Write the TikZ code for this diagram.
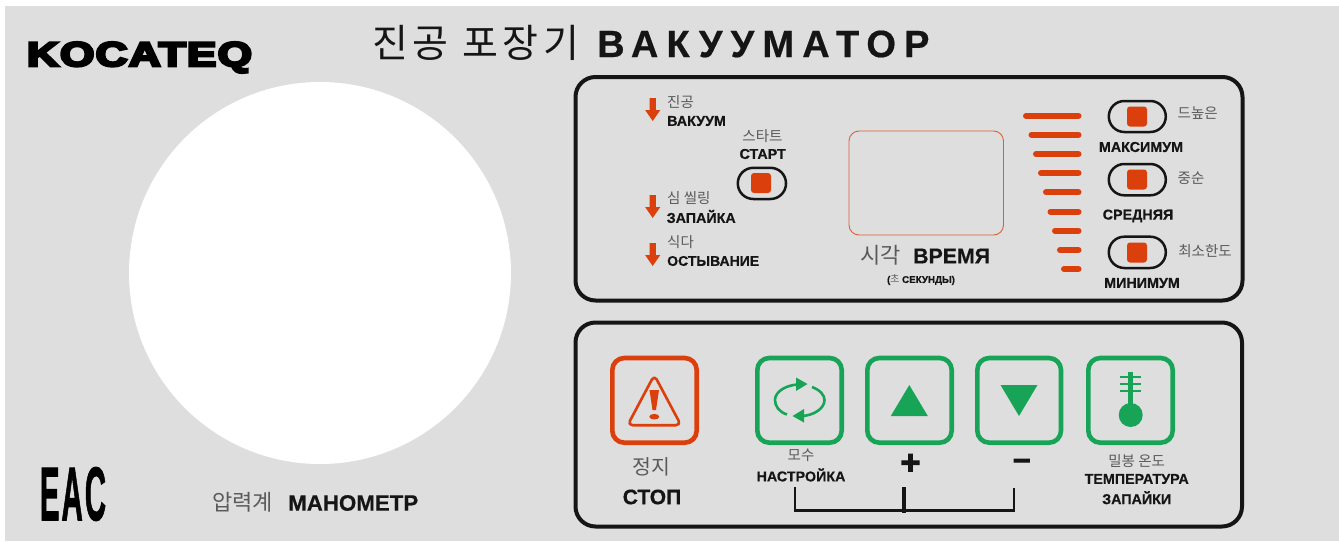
\documentclass[tikz,border=0pt]{standalone}
\usepackage{fontspec}
\usepackage{graphicx}
\setmainfont{Liberation Sans}
\newfontfamily\kr{Noto Sans CJK KR}
\newfontfamily\heavy[FakeBold=3]{Liberation Sans Bold}
\newfontfamily\logofont[FakeBold=7,LetterSpace=3]{Liberation Sans Bold}
\newfontfamily\rb[FakeBold=0.5]{Liberation Sans Bold}
\newfontfamily\eacfont[FakeBold=1.6,LetterSpace=7]{Liberation Sans Bold}
\definecolor{panelgray}{HTML}{DEDEDE}
\definecolor{signalred}{HTML}{DB3F0C}
\definecolor{keygreen}{HTML}{17A457}
\definecolor{krgray}{HTML}{5A5A5A}
\definecolor{ink}{HTML}{151515}
\tikzset{
 panel/.style={draw=ink,line width=4pt,rounded corners=20pt},
 lab/.style={inner sep=0pt,text=ink,font=\rb\fontsize{14.3}{14}\selectfont},
 krs/.style={inner sep=0pt,text=krgray,font=\kr\fontsize{14.5}{14}\selectfont},
 pill/.style={draw=ink,line width=2.5pt,rounded corners=15.5pt,fill=none},
 led/.style={fill=signalred,rounded corners=3pt},
 bar/.style={draw=signalred,line width=6pt,line cap=round},
 greenkey/.style={draw=keygreen,line width=4.6pt,rounded corners=12pt},
 flow/.style={fill=signalred},
 brack/.style={draw=ink,line width=2.6pt},
}
\newcommand{\flowarrow}[2]{%
 \fill[flow] (#1-3.2,#2) -- (#1+3.2,#2) -- (#1+3.2,#2+12) -- (#1+7.6,#2+12) -- (#1,#2+23) -- (#1-7.6,#2+12) -- (#1-3.2,#2+12) -- cycle;}
\begin{document}
\begin{tikzpicture}[x=1pt,y=-1pt]
\useasboundingbox (0,0) rectangle (1339,541);
\fill[white] (0,0) rectangle (1339,541);
\fill[panelgray] (5,6) rectangle (1339,541);
% logo
\node[inner sep=0pt,text=black] (logo) at (139.5,57.5) {\resizebox{225pt}{24pt}{\logofont KOCATEQ}};
\node[inner sep=0pt,text=black] (eac) at (73,494) {\resizebox{66pt}{53pt}{\eacfont EAC}};
% title
\node[anchor=west,inner sep=0pt,text=ink,font=\kr\fontsize{39}{40}\selectfont] (titlekr) at (372,43) {\addfontfeature{LetterSpace=12}진공 포장기};
\node[anchor=west,inner sep=0pt,text=ink,font=\rb\fontsize{38}{38}\selectfont] (titleru) at (597,44) {\addfontfeature{LetterSpace=21.5}ВАКУУМАТОР};
% gauge
\fill[white] (320,273) circle (191);
\node[anchor=west,krs,font=\kr\fontsize{22}{22}\selectfont] (gaugekr) at (212,502) {압력계};
\node[anchor=west,lab,font=\rb\fontsize{22.3}{22}\selectfont] (gaugeru) at (288,503) {МАНОМЕТР};
% panels
\draw[panel] (575.5,77) rectangle (1242.5,300.5);
\draw[panel] (575.5,322.5) rectangle (1242,526.5);
% stage indicators
\flowarrow{652.7}{98}
\flowarrow{652.7}{195}
\flowarrow{652.7}{243}
\node[anchor=west,krs] (vackr) at (667,102) {진공};
\node[anchor=west,lab] (vacru) at (667,121) {ВАКУУМ};
\node[anchor=west,krs] (sealkr) at (667,198) {심 씰링};
\node[anchor=west,lab] (sealru) at (666.5,216.5) {ЗАПАЙКА};
\node[anchor=west,krs] (coolkr) at (667,242) {식다};
\node[anchor=west,lab,font=\rb\fontsize{14}{14}\selectfont] (coolru) at (667,261) {ОСТЫВАНИЕ};
% start
\node[krs] (startkr) at (762.5,136) {스타트};
\node[lab] (startru) at (762.7,154) {СТАРТ};
\draw[pill] (737.8,167.8) rectangle (786,199);
\fill[led] (751,173) rectangle (771,193);
% display
\draw[draw=signalred!80!panelgray,line width=0.9pt,rounded corners=10pt] (849,131) rectangle (1003.5,235);
\node[anchor=west,krs,font=\kr\fontsize{22}{22}\selectfont] (timekr) at (860,255) {시각};
\node[anchor=west,lab,font=\rb\fontsize{21.3}{21.3}\selectfont] (timeru) at (913,256) {ВРЕМЯ};
\node[lab,font=\rb\fontsize{9.8}{9}\selectfont] (secs) at (921,280) {({\kr\color{krgray}초} СЕКУНДЫ)};
% bars
\draw[bar] (1026,115.7) -- (1078.5,115.7);
\draw[bar] (1031.5,134.7) -- (1078.5,134.7);
\draw[bar] (1036,154) -- (1078.5,154);
\draw[bar] (1041,173) -- (1078.5,173);
\draw[bar] (1046,192.3) -- (1078.5,192.3);
\draw[bar] (1050.5,211.7) -- (1078.5,211.7);
\draw[bar] (1055,230.7) -- (1078.5,230.7);
\draw[bar] (1060,250) -- (1078.5,250);
\draw[bar] (1064,269) -- (1078.5,269);
% level keys
\draw[pill] (1108.8,101) rectangle (1165.8,132);
\draw[pill] (1108.8,164) rectangle (1165.8,195.3);
\draw[pill] (1108.8,236.7) rectangle (1165.8,268);
\fill[led] (1127,106.5) rectangle (1147,126.5);
\fill[led] (1127,169.5) rectangle (1147,189.5);
\fill[led] (1127,242.5) rectangle (1147,262.5);
\node[krs] (maxkr) at (1197.7,113) {드높은};
\node[lab] (maxru) at (1141,147) {МАКСИМУМ};
\node[krs] (midkr) at (1191,178) {중순};
\node[lab] (midru) at (1138,216) {СРЕДНЯЯ};
\node[krs] (minkr) at (1205,251) {최소한도};
\node[lab] (minru) at (1142,283) {МИНИМУМ};
% stop
\draw[draw=signalred,line width=4.6pt,rounded corners=12pt] (612.3,358) rectangle (696.7,442.7);
\draw[draw=signalred,line width=2.6pt,line join=round,rounded corners=5pt] (654.3,375) -- (681,425.2) -- (627.6,425.2) -- cycle;
\fill[signalred] (649.5,390) -- (659,390) -- (656,410) -- (652.5,410) -- cycle;
\fill[signalred] (654.3,416.7) ellipse (5 and 2.8);
\node[krs,font=\kr\fontsize{20.5}{20.5}\selectfont] (stopkr) at (651.7,467) {정지};
\node[lab,font=\rb\fontsize{21}{21}\selectfont] (stopru) at (652,497) {СТОП};
% green keys
\draw[greenkey] (757.3,358) rectangle (841.7,442.7);
\draw[greenkey] (867.3,358) rectangle (951.7,442.7);
\draw[greenkey] (977.3,358) rectangle (1061,442.7);
\draw[greenkey] (1088.3,358) rectangle (1172.7,442.7);
% cycle icon
\draw[keygreen,line width=2.6pt] (787,414.5) .. controls (779,412) and (775,406) .. (775,400) .. controls (775,391) and (787,385) .. (798,384.5);
\fill[keygreen] (796,377.5) -- (807.5,384) -- (796,391) -- cycle;
\draw[keygreen,line width=2.6pt] (812,387) .. controls (820,390) and (824.5,395) .. (824.5,400) .. controls (824.5,409) and (813,415.5) .. (802,416);
\fill[keygreen] (804,409) -- (792.5,416) -- (804,422.5) -- cycle;
% triangles
\fill[keygreen] (909.3,385) -- (927.8,416) -- (890.8,416) -- cycle;
\fill[keygreen] (1000.5,385) -- (1037.5,385) -- (1019,416) -- cycle;
% thermometer
\fill[keygreen] (1130.7,415) circle (12);
\fill[keygreen] (1128.2,372) rectangle (1133.2,410);
\draw[keygreen,line width=2.8pt] (1120,377) -- (1141,377) (1120,384) -- (1141,384) (1120,391) -- (1141,391);
% key labels
\node[krs] (setkr) at (801,455) {모수};
\node[lab] (setru) at (801,475) {НАСТРОЙКА};
\node[inner sep=0pt,text=ink,font=\heavy\fontsize{34}{34}\selectfont] (plus) at (910.5,464) {+};
\node[inner sep=0pt,text=ink,font=\heavy\fontsize{31}{31}\selectfont] (minus) at (1021.7,464) {–};
\node[krs] (tempkr) at (1136.7,461) {밀봉 온도};
\node[lab] (tempru) at (1136.7,479) {ТЕМПЕРАТУРА};
\node[lab] (tempru2) at (1136.7,497.7) {ЗАПАЙКИ};
% bracket
\coordinate (bl) at (795,487);
\coordinate (bm) at (904,487);
\coordinate (br) at (1014,487.5);
\coordinate (bj) at (904,510.7);
\draw[brack,line join=miter] (bl) |- (bj) -| (br);
\draw[brack,line width=3.6pt] (bm) -- (904,513);
\end{tikzpicture}
\end{document}
